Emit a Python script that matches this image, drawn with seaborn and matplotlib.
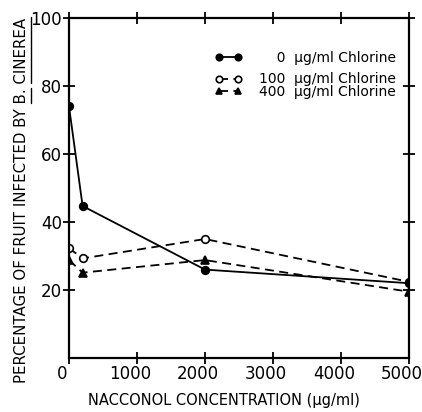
import matplotlib
matplotlib.use("Agg")
import matplotlib.pyplot as plt
from matplotlib.lines import Line2D
from matplotlib.transforms import ScaledTranslation
import seaborn as sns
import pandas as pd

conc = [0, 200, 2000, 5000]
chl0 = [74, 44.7, 26, 22]
chl100 = [32.3, 29.3, 35, 22.4]
chl400 = [28.8, 25.1, 28.8, 19.5]
labels = ["\u2007\u20070  \u03bcg/ml Chlorine", "100  \u03bcg/ml Chlorine", "400  \u03bcg/ml Chlorine"]
xticks = [0, 1000, 2000, 3000, 4000, 5000]
yticks = [20, 40, 60, 80, 100]

sns.set_theme(style="ticks")
plt.rcParams['font.family'] = ['DejaVu Sans']
plt.rcParams['text.color'] = 'black'
plt.rcParams['axes.labelcolor'] = 'black'

W, H, DPI = 4.22, 4.12, 100
fig = plt.figure(figsize=(W, H), dpi=DPI)
ax = fig.add_axes([69 / 422, 1 - 358 / 412, 340 / 422, 340 / 412])

df = pd.DataFrame({
    "x": conc * 3,
    "y": chl0 + chl100 + chl400,
    "s": [labels[0]] * 4 + [labels[1]] * 4 + [labels[2]] * 4,
})
styles = {labels[0]: ("-", "o", "black", 5.5),
          labels[1]: ((0, (5, 3)), "o", "white", 5.5),
          labels[2]: ((0, (5, 3)), "^", "black", 5.5)}
handles = {}
for lab in [labels[1], labels[2], labels[0]]:
    ls, mk, fc, ms = styles[lab]
    sub = df[df.s == lab]
    sns.lineplot(data=sub, x="x", y="y", ax=ax, color="black", linestyle=ls,
                 marker=mk, markerfacecolor=fc, markeredgecolor="black",
                 markersize=ms, markeredgewidth=1.2, linewidth=1.3)
    handles[lab] = ax.lines[-1]

ax.set_xlim(0, 5000)
ax.set_ylim(0, 100)
ax.set_xticks(xticks)
ax.set_yticks(yticks)
ax.tick_params(direction="inout", length=8, width=1.3, labelsize=12, colors="black", pad=1)
ax.tick_params(top=True, right=True)
for sp in ax.spines.values():
    sp.set_linewidth(1.6)
    sp.set_color("black")
shift = ScaledTranslation(-5 / 72, 0, fig.dpi_scale_trans)
for lbl in ax.get_xticklabels():
    lbl.set_transform(lbl.get_transform() + shift)

ax.set_xlabel("NACCONOL CONCENTRATION (\u03bcg/ml)", fontsize=10.5, color="black")
ax.xaxis.set_label_coords((224 - 69) / 340, (358 - 393) / 340)
ylab_full = "PERCENTAGE OF FRUIT INFECTED BY B. CINEREA"
ylab = ax.set_ylabel(ylab_full, fontsize=10.8, color="black")
ax.yaxis.set_label_coords((29 - 69) / 340, (358 - 200) / 340)

leg_kw = dict(loc="upper left", bbox_transform=fig.transFigure, frameon=False,
              fontsize=10, numpoints=2, handlelength=1.95, handletextpad=1.2,
              borderpad=0, borderaxespad=0, labelcolor="black", markerscale=0.85)
leg1 = ax.legend([handles[labels[0]]], [labels[0]],
                 bbox_to_anchor=(215 / 422, 1 - 51 / 412), **leg_kw)
ax.add_artist(leg1)
leg2 = ax.legend([handles[labels[1]], handles[labels[2]]], labels[1:],
                 bbox_to_anchor=(215 / 422, 1 - 72.5 / 412), labelspacing=-0.1, **leg_kw)

# underline "B. CINEREA" in the rotated y label
fig.canvas.draw()
r = fig.canvas.get_renderer()
bb = ylab.get_window_extent(r)
prop = ylab.get_fontproperties()
def tw(s):
    return r.get_text_width_height_descent(s, prop, ismath=False)
w_full = tw("B. CINEREA")[0]
w_b = tw("B.")[0]
w_c = tw("CINEREA")[0]
desc = tw(ylab_full)[2]
xu = bb.x1 - desc + 1.5
figw, figh = W * DPI, H * DPI
for ya, yb in [(bb.y1 - w_full, bb.y1 - w_full + w_b), (bb.y1 - w_c, bb.y1)]:
    fig.add_artist(Line2D([xu / figw, xu / figw], [ya / figh, yb / figh],
                          transform=fig.transFigure, color="black", linewidth=1.0))

fig.savefig("out.png", dpi=DPI)
